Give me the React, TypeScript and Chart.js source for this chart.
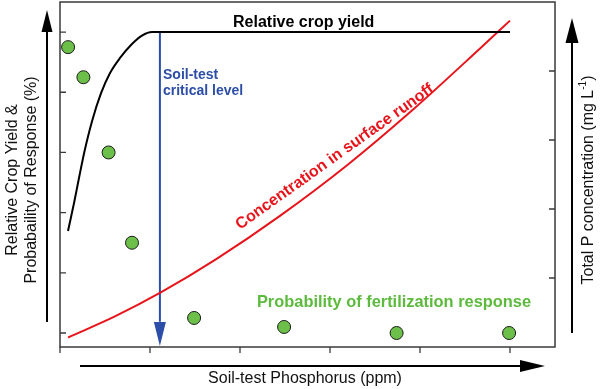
import React, { useEffect, useRef } from "react";
import { Chart, registerables } from "chart.js";

Chart.register(...registerables);

// Soil-test P (arbitrary units, tick every 1)
const xTicks = [0, 1, 2, 3, 4, 5];
const leftTicks = [0, 20, 40, 60, 80, 100];
const rightTicks = [1, 2, 3, 4];

// Relative crop yield (%)
const yieldX = [0.089, 0.156, 0.211, 0.27, 0.356, 0.456, 0.556, 0.667, 0.789, 0.911, 1.022, 5.0];
const yieldY = [33.9, 43.2, 51.5, 60.1, 70.4, 79.7, 86.4, 91.4, 95.7, 98.8, 100, 100];

// Total P concentration in surface runoff (mg/L)
const runoffX = [0.09, 0.61, 1.12, 1.74, 2.44, 3.19, 3.92, 4.67, 5.0];
const runoffY = [0.138, 0.443, 0.79, 1.277, 1.897, 2.635, 3.438, 4.33, 4.73];

// Probability of fertilization response (%)
const probX = [0.09, 0.26, 0.54, 0.8, 1.49, 2.49, 3.74, 4.99];
const probY = [95, 85, 60, 30, 5, 2, 0, 0];

// Soil-test critical level
const criticalX = 1.11;
const criticalTop = 100;
const criticalBottom = -4.3;

const FONT = "'Liberation Sans', Arial, Helvetica, sans-serif";

const decorPlugin = {
  id: "decor",
  beforeDatasetsDraw(chart: any) {
    const { ctx, chartArea: a, scales } = chart;
    ctx.save();
    ctx.strokeStyle = "#3a3a3a";
    ctx.lineWidth = 1.5;
    ctx.strokeRect(a.left, a.top, a.right - a.left, a.bottom - a.top);
    ctx.lineWidth = 1.3;
    ctx.beginPath();
    leftTicks.forEach((v) => {
      const y = scales.y.getPixelForValue(v);
      ctx.moveTo(a.left, y);
      ctx.lineTo(a.left + 6, y);
    });
    rightTicks.forEach((v) => {
      const y = scales.y2.getPixelForValue(v);
      ctx.moveTo(a.right, y);
      ctx.lineTo(a.right - 6, y);
    });
    xTicks.forEach((v) => {
      const x = scales.x.getPixelForValue(v);
      ctx.moveTo(x, a.bottom);
      ctx.lineTo(x, a.bottom + 6);
    });
    ctx.stroke();
    ctx.restore();
  },
  afterDatasetsDraw(chart: any) {
    const { ctx, chartArea: a, scales } = chart;
    ctx.save();
    // blue arrowhead
    const bx = scales.x.getPixelForValue(criticalX);
    const by = scales.y.getPixelForValue(criticalBottom);
    ctx.fillStyle = "#2d4ea8";
    ctx.beginPath();
    ctx.moveTo(bx, by);
    ctx.lineTo(bx - 6, by - 24);
    ctx.lineTo(bx + 6, by - 24);
    ctx.closePath();
    ctx.fill();

    // axis arrows
    ctx.strokeStyle = "#000";
    ctx.fillStyle = "#000";
    ctx.lineWidth = 2;
    const lx = a.left - 13;
    ctx.beginPath();
    ctx.moveTo(lx, 322);
    ctx.lineTo(lx, 30);
    ctx.stroke();
    ctx.beginPath();
    ctx.moveTo(lx, 10);
    ctx.lineTo(lx - 5.5, 32);
    ctx.lineTo(lx + 5.5, 32);
    ctx.closePath();
    ctx.fill();

    const hy = a.bottom + 19;
    ctx.beginPath();
    ctx.moveTo(80, hy);
    ctx.lineTo(522, hy);
    ctx.stroke();
    ctx.beginPath();
    ctx.moveTo(545, hy);
    ctx.lineTo(520, hy - 6);
    ctx.lineTo(520, hy + 6);
    ctx.closePath();
    ctx.fill();

    const rx = a.right + 17;
    ctx.beginPath();
    ctx.moveTo(rx, 333);
    ctx.lineTo(rx, 40);
    ctx.stroke();
    ctx.beginPath();
    ctx.moveTo(rx, 18);
    ctx.lineTo(rx - 6.5, 43);
    ctx.lineTo(rx + 6.5, 43);
    ctx.closePath();
    ctx.fill();

    // annotations
    ctx.textBaseline = "alphabetic";
    ctx.textAlign = "left";
    ctx.fillStyle = "#000";
    ctx.font = `bold 16px ${FONT}`;
    ctx.fillText("Relative crop yield", 233, 27);

    ctx.fillStyle = "#2d4ea8";
    ctx.font = `bold 14px ${FONT}`;
    ctx.fillText("Soil-test", 163, 79);
    ctx.fillText("critical level", 163, 95);

    ctx.fillStyle = "#5cba3c";
    ctx.font = `bold 16.4px ${FONT}`;
    ctx.textAlign = "center";
    ctx.fillText("Probability of fertilization response", 394, 307);

    ctx.save();
    ctx.fillStyle = "#e8141b";
    ctx.font = `bold 16px ${FONT}`;
    ctx.translate(240, 230);
    ctx.rotate((-35.5 * Math.PI) / 180);
    ctx.textAlign = "left";
    ctx.fillText("Concentration in surface runoff", 0, 0);
    ctx.restore();

    // axis labels
    ctx.fillStyle = "#111";
    ctx.font = `16px ${FONT}`;
    ctx.textAlign = "center";
    ctx.fillText("Soil-test Phosphorus (ppm)", 305, 383);

    ctx.save();
    ctx.translate(13, 180);
    ctx.rotate(-Math.PI / 2);
    ctx.textBaseline = "middle";
    ctx.fillText("Relative Crop Yield &", 0, 0);
    ctx.restore();
    ctx.save();
    ctx.translate(32, 180);
    ctx.rotate(-Math.PI / 2);
    ctx.textBaseline = "middle";
    ctx.fillText("Probabaility of Response (%)", 0, 0);
    ctx.restore();

    // right label with superscript
    ctx.save();
    ctx.translate(589, 180);
    ctx.rotate(-Math.PI / 2);
    ctx.textBaseline = "middle";
    ctx.textAlign = "left";
    const p1 = "Total P concentration (mg L";
    const p2 = "-1";
    const p3 = ")";
    ctx.font = `16px ${FONT}`;
    const w1 = ctx.measureText(p1).width;
    const w3 = ctx.measureText(p3).width;
    ctx.font = `10px ${FONT}`;
    const w2 = ctx.measureText(p2).width;
    const total = w1 + w2 + w3;
    let sx = -total / 2;
    ctx.font = `16px ${FONT}`;
    ctx.fillText(p1, sx, 0);
    sx += w1;
    ctx.font = `10px ${FONT}`;
    ctx.fillText(p2, sx, -6);
    sx += w2;
    ctx.font = `16px ${FONT}`;
    ctx.fillText(p3, sx, 0);
    ctx.restore();

    ctx.restore();
  },
};

export default function App() {
  const ref = useRef<HTMLCanvasElement | null>(null);
  useEffect(() => {
    if (!ref.current) return;
    const chart = new Chart(ref.current, {
      type: "scatter",
      data: {
        datasets: [
          {
            label: "Relative crop yield",
            data: yieldX.map((x, i) => ({ x, y: yieldY[i] })),
            showLine: true,
            borderColor: "#000",
            borderWidth: 2,
            pointRadius: 0,
            cubicInterpolationMode: "monotone",
            yAxisID: "y",
          },
          {
            label: "Concentration in surface runoff",
            data: runoffX.map((x, i) => ({ x, y: runoffY[i] })),
            showLine: true,
            borderColor: "#e8141b",
            borderWidth: 2,
            pointRadius: 0,
            cubicInterpolationMode: "monotone",
            yAxisID: "y2",
          },
          {
            label: "Soil-test critical level",
            data: [
              { x: criticalX, y: criticalTop },
              { x: criticalX, y: criticalBottom + 8 },
            ],
            showLine: true,
            borderColor: "#2d4ea8",
            borderWidth: 2,
            pointRadius: 0,
            yAxisID: "y",
          },
          {
            label: "Probability of fertilization response",
            data: probX.map((x, i) => ({ x, y: probY[i] })),
            showLine: false,
            pointRadius: 6.5,
            backgroundColor: "#6cc04a",
            borderColor: "#1a1a1a",
            borderWidth: 1,
            yAxisID: "y",
          },
        ],
      },
      options: {
        animation: false,
        responsive: false,
        layout: { autoPadding: false, padding: { left: 60, top: 2, right: 45, bottom: 42 } },
        plugins: { legend: { display: false }, tooltip: { enabled: false } },
        scales: {
          x: { type: "linear", min: 0, max: 5.5, display: false },
          y: { type: "linear", min: -4.65, max: 110, display: false },
          y2: { type: "linear", position: "right", min: 0, max: 5, display: false },
        },
      },
      plugins: [decorPlugin],
    } as any);
    return () => chart.destroy();
  }, []);
  return (
    <div style={{ position: "fixed", left: 0, top: 0, width: 600, height: 389, background: "#fff" }}>
      <canvas ref={ref} width={600} height={389} style={{ display: "block" }} />
    </div>
  );
}
